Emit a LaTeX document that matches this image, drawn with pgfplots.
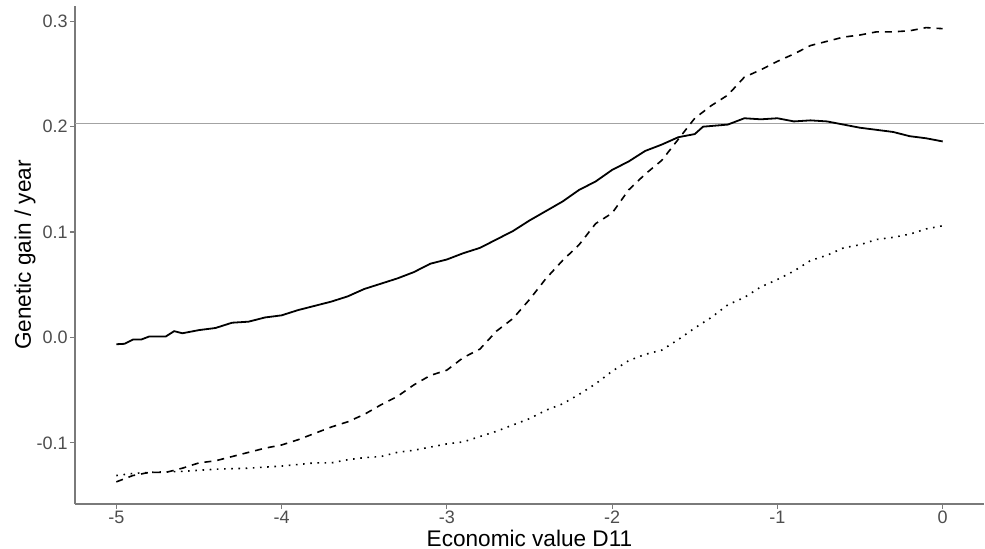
\documentclass[border=0pt]{standalone}
\usepackage{pgfplots}
\pgfplotsset{compat=1.18}
\usepackage{fontspec}
\setmainfont{Liberation Sans}
\definecolor{tickgray}{HTML}{4D4D4D}
\definecolor{axgray}{HTML}{7A7A7A}
\definecolor{hgray}{HTML}{A3A3A3}
\begin{document}
\begin{tikzpicture}
\useasboundingbox (-37.5pt,-22pt) rectangle (455pt,252pt);
\begin{axis}[
  at={(0,0)}, anchor=south west,
  scale only axis, width=454.5pt, height=249pt,
  xmin=-5.25, xmax=0.25, ymin=-0.158, ymax=0.3145,
  axis lines=left, axis line style={draw=axgray, line width=0.6pt, -},
  xtick={-5,-4,-3,-2,-1,0}, xticklabels={-5,-4,-3,-2,-1,0},
  ytick={-0.1,0,0.1,0.2,0.3}, yticklabels={-0.1,0.0,0.1,0.2,0.3},
  tick align=outside, major tick length=2.5pt,
  tick style={draw=axgray, line width=0.6pt},
  ticklabel style={font=\fontsize{9}{10}\selectfont, text=tickgray},
  xticklabel style={inner sep=0pt, anchor=north, yshift=-1pt},
  yticklabel style={inner sep=0pt, anchor=east, xshift=-1pt},
  xlabel={Economic value D11}, ylabel={Genetic gain / year},
  label style={font=\fontsize{11.3}{13}\selectfont},
  xlabel style={at={(axis description cs:0.5,0)}, anchor=center, yshift=-17pt},
  ylabel style={at={(axis description cs:0,0.5)}, anchor=center, yshift=25pt},
  clip=false,
]
\addplot[hgray, line width=0.5pt, forget plot] coordinates {(-5.25,0.2033) (0.25,0.2033)};
% solid
\addplot[black, line width=0.9pt] coordinates {
(-5,-0.0064) (-4.95,-0.006) (-4.9,-0.002) (-4.85,-0.002) (-4.8,0.001) (-4.7,0.001)
(-4.65,0.006) (-4.6,0.004) (-4.5,0.007) (-4.4,0.009) (-4.3,0.014) (-4.2,0.015)
(-4.1,0.019) (-4.0,0.021) (-3.9,0.026) (-3.8,0.030) (-3.7,0.034) (-3.6,0.039)
(-3.5,0.046) (-3.4,0.051) (-3.3,0.056) (-3.2,0.062) (-3.1,0.070) (-3.0,0.074)
(-2.9,0.080) (-2.8,0.085) (-2.7,0.093) (-2.6,0.101) (-2.5,0.111) (-2.4,0.120)
(-2.3,0.129) (-2.2,0.140) (-2.1,0.148) (-2.0,0.159) (-1.9,0.167) (-1.8,0.177)
(-1.7,0.183) (-1.6,0.190) (-1.5,0.193) (-1.45,0.200) (-1.3,0.202) (-1.2,0.208)
(-1.1,0.207) (-1.0,0.208) (-0.9,0.205) (-0.8,0.206) (-0.7,0.205) (-0.6,0.202)
(-0.5,0.199) (-0.4,0.197) (-0.3,0.195) (-0.2,0.191) (-0.1,0.189) (0,0.186)
};
% dashed
\addplot[black, line width=0.8pt, dash pattern=on 3.5pt off 3pt] coordinates {
(-5,-0.137) (-4.9,-0.131) (-4.8,-0.128) (-4.7,-0.128) (-4.6,-0.124) (-4.5,-0.119)
(-4.4,-0.117) (-4.3,-0.113) (-4.2,-0.109) (-4.1,-0.105) (-4.0,-0.102) (-3.9,-0.097)
(-3.8,-0.091) (-3.7,-0.085) (-3.6,-0.080) (-3.5,-0.073) (-3.4,-0.064) (-3.3,-0.056)
(-3.2,-0.045) (-3.1,-0.036) (-3.0,-0.031) (-2.9,-0.019) (-2.8,-0.011) (-2.7,0.006)
(-2.6,0.018) (-2.5,0.036) (-2.4,0.056) (-2.3,0.073) (-2.2,0.088) (-2.1,0.108)
(-2.0,0.118) (-1.9,0.140) (-1.8,0.155) (-1.7,0.168) (-1.6,0.188) (-1.5,0.208)
(-1.4,0.220) (-1.3,0.230) (-1.2,0.247) (-1.1,0.254) (-1.0,0.262) (-0.9,0.269)
(-0.8,0.277) (-0.7,0.281) (-0.6,0.285) (-0.5,0.287) (-0.4,0.290) (-0.3,0.290)
(-0.2,0.291) (-0.1,0.294) (0,0.293)
};
% dotted
\addplot[black, line width=0.8pt, dash pattern=on 0.8pt off 2.8pt] coordinates {
(-5,-0.131) (-4.9,-0.129) (-4.8,-0.128) (-4.6,-0.127) (-4.4,-0.125) (-4.2,-0.124)
(-4.0,-0.122) (-3.8,-0.119) (-3.7,-0.119) (-3.6,-0.116) (-3.5,-0.114) (-3.4,-0.113)
(-3.3,-0.109) (-3.2,-0.107) (-3.1,-0.104) (-3.0,-0.101) (-2.9,-0.099) (-2.8,-0.094)
(-2.7,-0.089) (-2.6,-0.083) (-2.5,-0.077) (-2.4,-0.069) (-2.3,-0.063) (-2.2,-0.054)
(-2.1,-0.044) (-2.0,-0.032) (-1.9,-0.022) (-1.8,-0.016) (-1.7,-0.012) (-1.6,-0.002)
(-1.5,0.009) (-1.4,0.019) (-1.3,0.031) (-1.2,0.038) (-1.1,0.048) (-1.0,0.055)
(-0.9,0.063) (-0.8,0.073) (-0.7,0.078) (-0.6,0.085) (-0.5,0.088) (-0.4,0.093)
(-0.3,0.095) (-0.2,0.098) (-0.1,0.103) (0,0.106)
};
\end{axis}
\end{tikzpicture}
\end{document}
